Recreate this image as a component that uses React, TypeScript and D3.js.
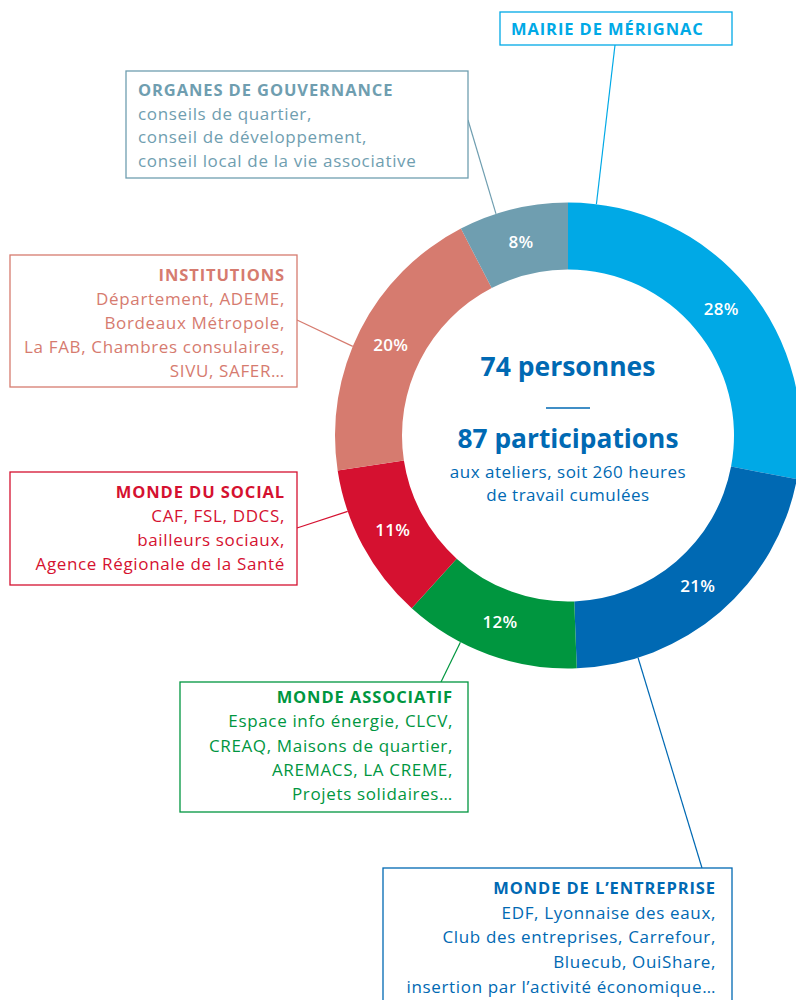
import React from "react";
import * as d3 from "d3";

const categories = [
  "MAIRIE DE MÉRIGNAC",
  "MONDE DE L’ENTREPRISE",
  "MONDE ASSOCIATIF",
  "MONDE DU SOCIAL",
  "INSTITUTIONS",
  "ORGANES DE GOUVERNANCE",
];
// shares (labels show the rounded value)
const values = [28, 21.4, 12.3, 10.9, 19.8, 7.6];
const colors = ["#00A9E6", "#0069B3", "#00963F", "#D51130", "#D67B6F", "#6F9EB0"];
const details: string[][] = [
  [],
  ["EDF, Lyonnaise des eaux,", "Club des entreprises, Carrefour,", "Bluecub, OuiShare,", "insertion par l’activité économique…"],
  ["Espace info énergie, CLCV,", "CREAQ, Maisons de quartier,", "AREMACS, LA CREME,", "Projets solidaires…"],
  ["CAF, FSL, DDCS,", "bailleurs sociaux,", "Agence Régionale de la Santé"],
  ["Département, ADEME,", "Bordeaux Métropole,", "La FAB, Chambres consulaires,", "SIVU, SAFER…"],
  ["conseils de quartier,", "conseil de développement,", "conseil local de la vie associative"],
];
const centerTitle1 = "74 personnes";
const centerTitle2 = "87 participations";
const centerSub = ["aux ateliers, soit 260 heures", "de travail cumulées"];

// layout (boxes, text anchors, leader lines)
const boxes = [
  { x: 500, y: 12, w: 232, h: 33, tx: 511, ty: 35, anchor: "start", lh: 24, from: [615, 45], leaderDeg: 7 },
  { x: 383, y: 868, w: 349, h: 140, tx: 716, ty: 894, anchor: "end", lh: 24.7, from: [702, 868], leaderDeg: 162.5 },
  { x: 180, y: 682, w: 288, h: 130, tx: 453, ty: 703, anchor: "end", lh: 24.3, from: [441, 682], leaderDeg: 207.5 },
  { x: 10, y: 472, w: 287, h: 113, tx: 285, ty: 498, anchor: "end", lh: 24, from: [297, 528], leaderDeg: 251 },
  { x: 10, y: 255, w: 287, h: 132, tx: 285, ty: 281, anchor: "end", lh: 24, from: [297, 320], leaderDeg: 292.5 },
  { x: 126, y: 71, w: 342, h: 107, tx: 138, ty: 96, anchor: "start", lh: 23.5, from: [468, 120], leaderDeg: 342 },
];

const W = 796;
const H = 1000;
const cx = 568;
const cy = 435.5;
const rOuter = 233;
const rInner = 166;
const FONT = "'Open Sans', sans-serif";

export default function App() {
  const pie = d3.pie<number>().sort(null).value((d) => d);
  const arcs = pie(values);
  const arcGen = d3.arc<d3.PieArcDatum<number>>().innerRadius(rInner).outerRadius(rOuter);
  const labelArc = d3.arc<d3.PieArcDatum<number>>().innerRadius(199).outerRadius(199);

  return (
    <svg width={W} height={H} style={{ position: "absolute", left: 0, top: 0, background: "#fff" }} fontFamily={FONT}>
      <g transform={`translate(${cx},${cy})`}>
        {arcs.map((a, i) => (
          <path key={i} d={arcGen(a) || ""} fill={colors[i]} />
        ))}
        {arcs.map((a, i) => {
          const [x, y] = labelArc.centroid(a);
          return (
            <text key={i} x={x} y={y} dy="0.35em" textAnchor="middle" fill="#fff" fontWeight={600} fontSize={17} letterSpacing={0.3}>
              {Math.round(values[i])}%
            </text>
          );
        })}
      </g>
      {/* leader lines */}
      {boxes.map((b, i) => {
        const ang = (b.leaderDeg * Math.PI) / 180;
        const ex = cx + Math.sin(ang) * rOuter;
        const ey = cy - Math.cos(ang) * rOuter;
        return <line key={i} x1={b.from[0]} y1={b.from[1]} x2={ex} y2={ey} stroke={colors[i]} strokeWidth={1.2} />;
      })}
      {/* boxes */}
      {boxes.map((b, i) => (
        <g key={i}>
          <rect x={b.x} y={b.y} width={b.w} height={b.h} fill="#fff" stroke={colors[i]} strokeWidth={1.3} />
          <text x={b.tx} y={b.ty} textAnchor={b.anchor} fill={colors[i]} fontWeight={700} fontSize={16.5} letterSpacing={0.9}>
            {categories[i]}
          </text>
          {details[i].map((t, j) => (
            <text key={j} x={b.tx} y={b.ty + (j + 1) * b.lh} textAnchor={b.anchor} fill={colors[i]} fontSize={17} letterSpacing={0.65}>
              {t}
            </text>
          ))}
        </g>
      ))}
      {/* center */}
      <g fill="#0069B3" textAnchor="middle">
        <text x={cx} y={376} fontWeight={700} fontSize={26.5}>{centerTitle1}</text>
        <line x1={cx - 22} x2={cx + 22} y1={408} y2={408} stroke="#0069B3" strokeWidth={1.5} />
        <text x={cx} y={448} fontWeight={700} fontSize={26.3}>{centerTitle2}</text>
        <text x={cx} y={478} fontSize={17} letterSpacing={0.5}>{centerSub[0]}</text>
        <text x={cx} y={501} fontSize={17} letterSpacing={0.5}>{centerSub[1]}</text>
      </g>
    </svg>
  );
}
